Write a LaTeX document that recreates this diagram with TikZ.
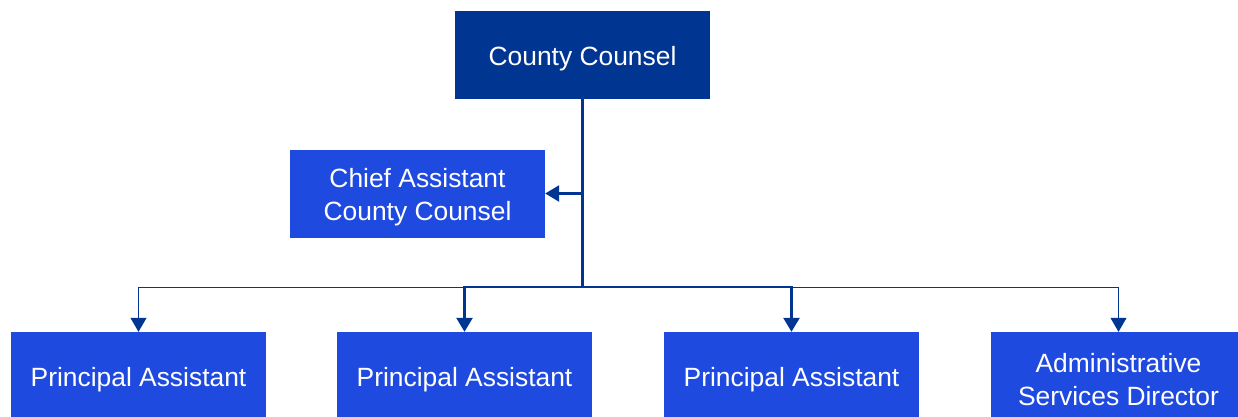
\documentclass[tikz,border=0pt]{standalone}
\usepackage{fontspec}
\setmainfont{Liberation Sans}
\usetikzlibrary{arrows.meta}
\definecolor{navy}{HTML}{003591}
\definecolor{royal}{HTML}{1F4AE0}
\begin{document}
\begin{tikzpicture}[x=1pt,y=-1pt,
  box/.style={minimum width=255pt,minimum height=88pt,inner sep=0pt},
  topbox/.style={box,fill=navy},
  unitbox/.style={box,fill=royal},
  caption/.style={text=white,align=center,inner sep=0pt,yshift=-3.5pt,font=\fontsize{26.4}{33}\selectfont},
  heavy/.style={draw=navy,line width=2.6pt},
  light/.style={draw=navy,line width=1pt},
  tip/.style={-{Triangle[length=14pt,width=16pt]}}]
\useasboundingbox (0,0) rectangle (1238,417);
\clip (0,0) rectangle (1238,417);
% boxes
\node[topbox] (cc) at (582.5,55) {};
\node[unitbox] (chief) at (417.5,193.5) {};
\node[unitbox] (pa1) at (138.5,376) {};
\node[unitbox] (pa2) at (464.5,376) {};
\node[unitbox] (pa3) at (791.5,376) {};
\node[unitbox] (asd) at (1118.5,376) {};
% titles
\node[caption] (cct) at (cc) {County Counsel};
\node[caption] (chieft) at (chief) {Chief Assistant\\County Counsel};
\node[caption] (pa1t) at (pa1) {Principal Assistant};
\node[caption] (pa2t) at (pa2) {Principal Assistant};
\node[caption] (pa3t) at (pa3) {Principal Assistant};
\node[caption] (asdt) at (asd) {Administrative\\Services Director};
% trunk and bus
\coordinate (split) at (582.5,193.5);
\coordinate (bus) at (582.5,287);
\draw[heavy] (cc.south) -- (bus);
\draw[heavy,tip] (split) -- (chief.east);
\draw[heavy,tip] (bus) -| (pa2.north);
\draw[heavy,tip] (bus) -| (pa3.north);
\draw[light,tip] (bus) -| (pa1.north);
\draw[light,tip] (bus) -| (asd.north);
\end{tikzpicture}
\end{document}
